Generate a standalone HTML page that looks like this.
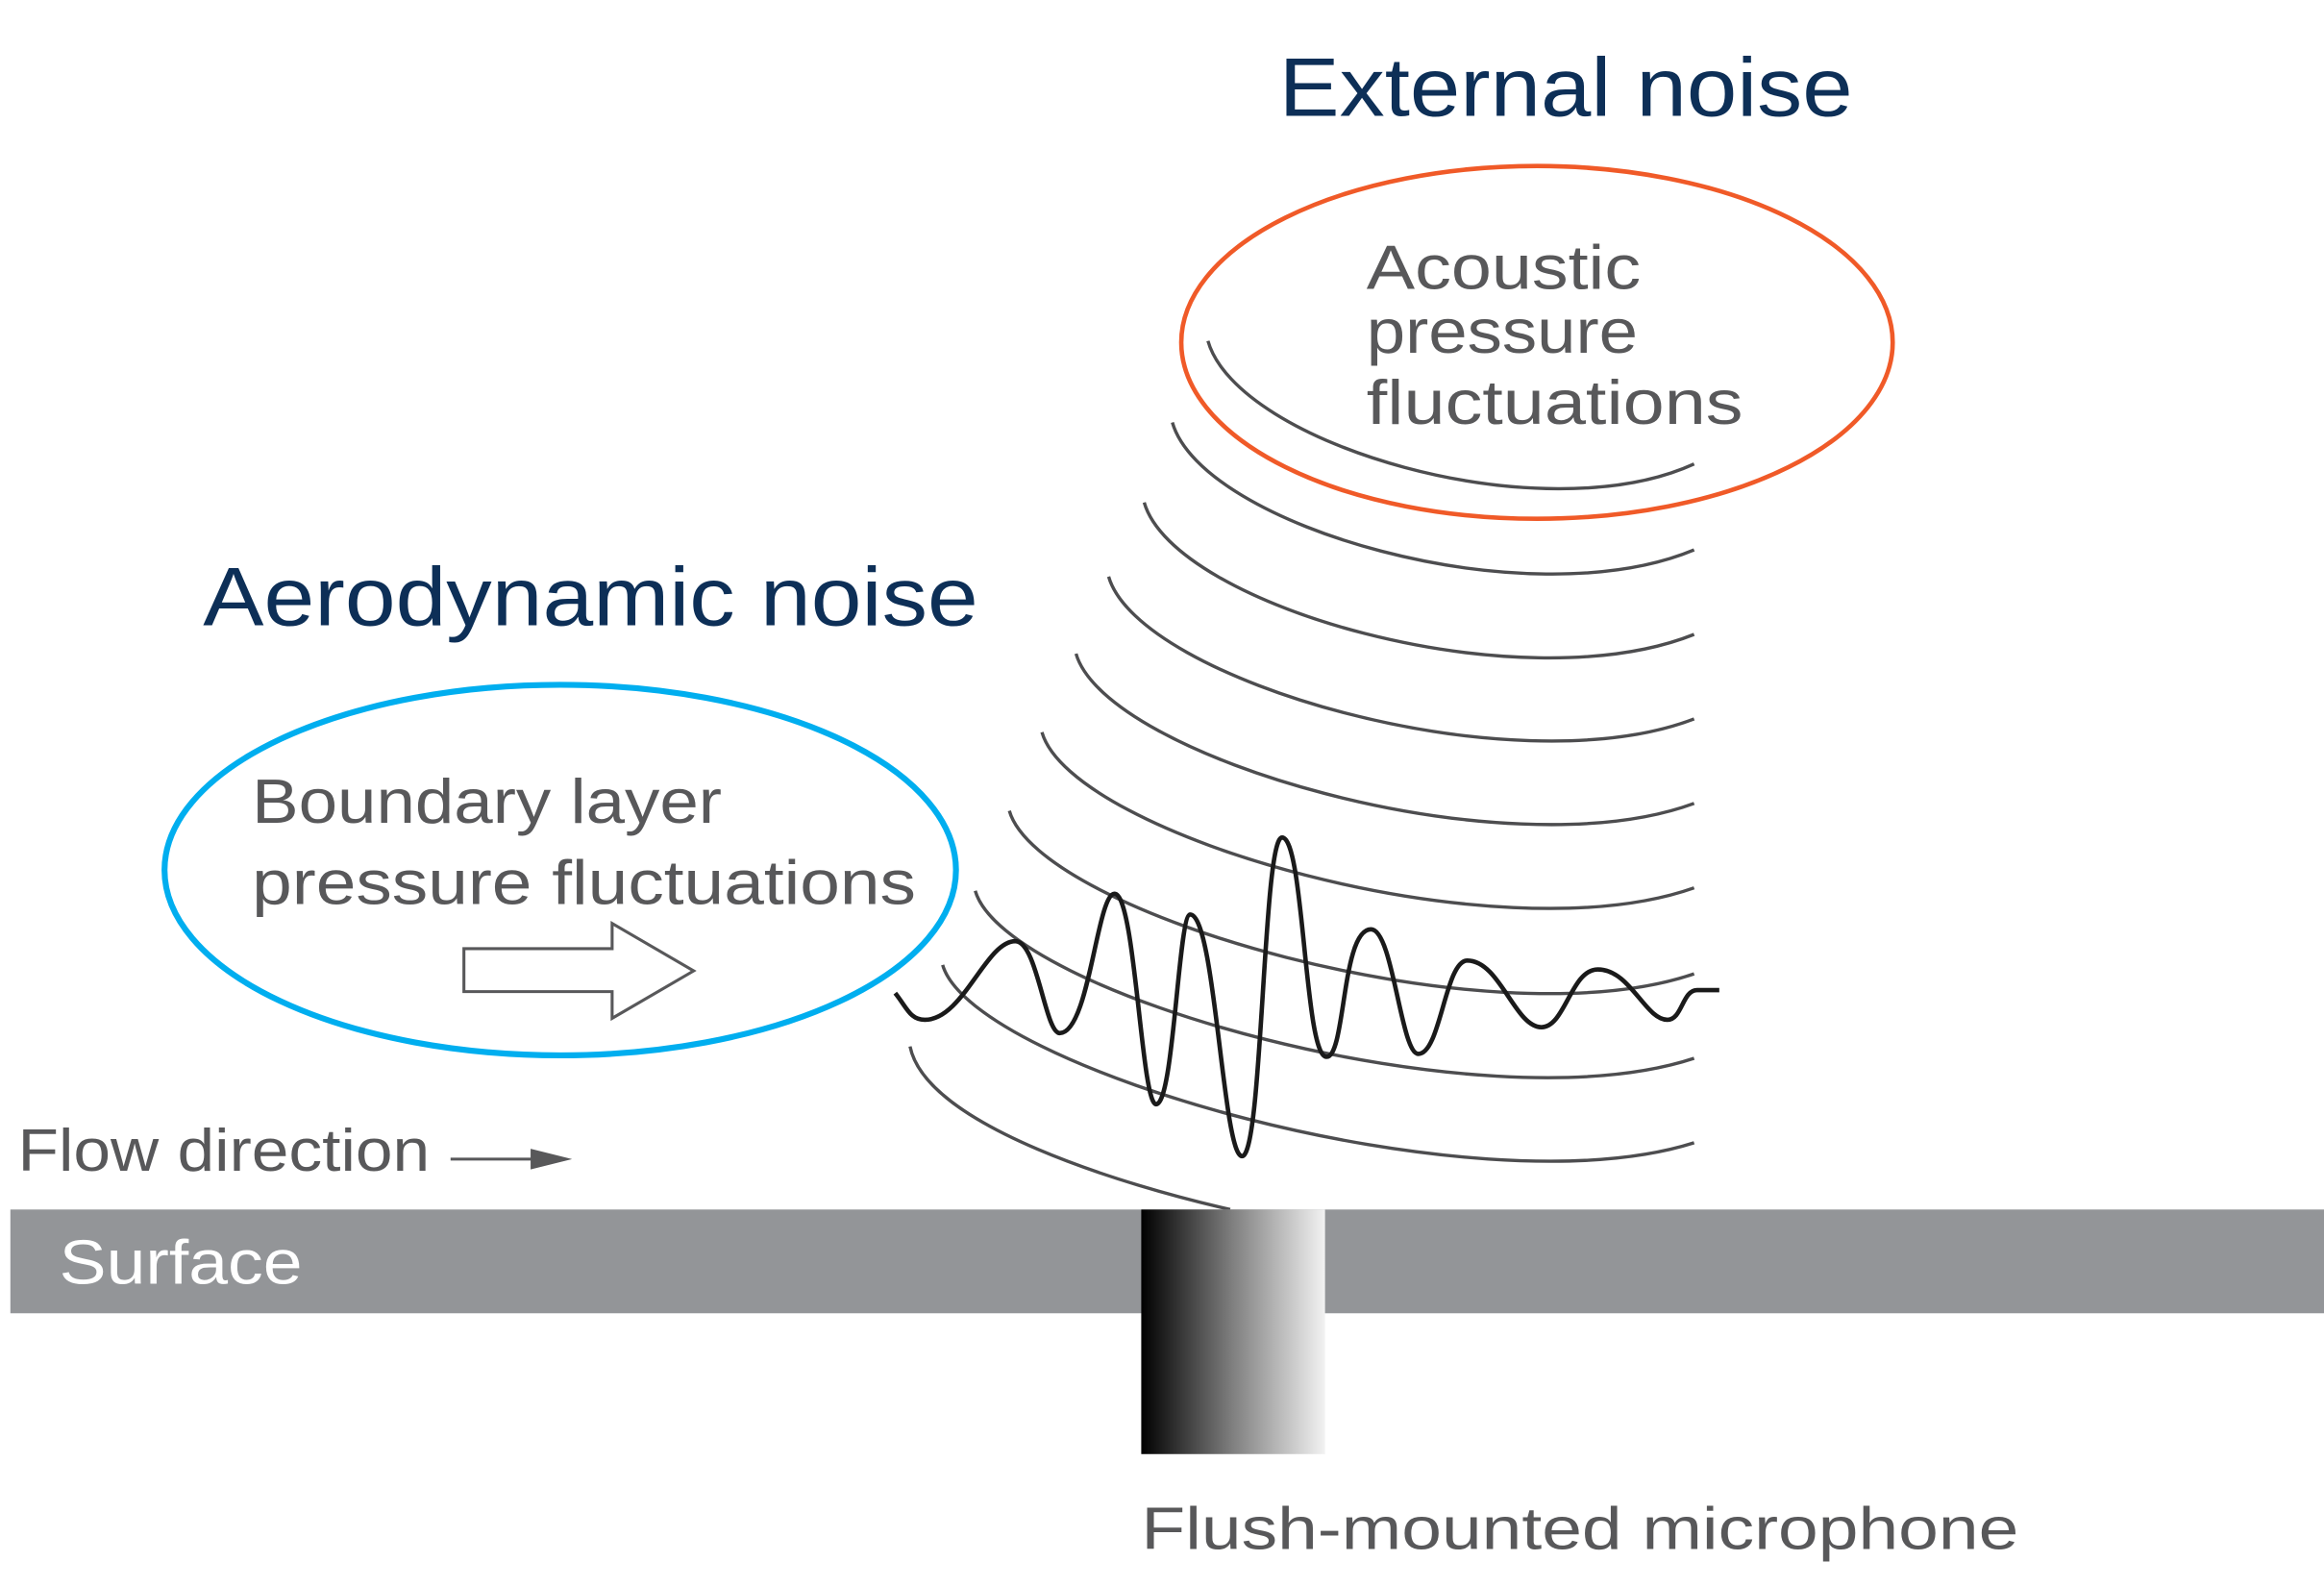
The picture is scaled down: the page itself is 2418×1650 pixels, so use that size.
<!DOCTYPE html>
<html><head><meta charset="utf-8"><style>
html,body{margin:0;padding:0;background:#fff;}
svg{display:block;}
text{font-family:"Liberation Sans",sans-serif;}
</style></head><body>
<svg width="2418" height="1650" viewBox="0 0 1568 1070" preserveAspectRatio="none" xmlns="http://www.w3.org/2000/svg">
<defs>
<linearGradient id="mic" x1="0" x2="1" y1="0" y2="0">
<stop offset="0" stop-color="#000"/><stop offset="0.5" stop-color="#808080"/><stop offset="1" stop-color="#f2f2f2"/>
</linearGradient>
</defs>
<rect width="1568" height="1070" fill="#fff"/>
<text x="863" y="78" font-size="56" fill="#0d2f57" textLength="387" lengthAdjust="spacingAndGlyphs">External noise</text>
<g fill="none" stroke="#4d4d4f" stroke-width="2.2">
<path d="M815,230 C835,300 1040,360 1143,313"/>
<path d="M791,285 C811,355 1030,418 1143,371"/>
<path d="M772,339 C792,409 1025,475 1143,428"/>
<path d="M748,389 C768,459 1020,532 1143,485"/>
<path d="M726,441 C746,511 1015,589 1143,542"/>
<path d="M703,494 C723,564 1010,646 1143,599"/>
<path d="M681,547 C701,617 1005,704 1143,657"/>
<path d="M658,601 C678,671 1000,761 1143,714"/>
<path d="M636,651 C656,721 995,818 1143,771"/>
<path d="M614,706 C625,760 760,800 830,816"/>
</g>
<ellipse cx="1037" cy="231" rx="240" ry="119" fill="none" stroke="#f05a28" stroke-width="3"/>
<g font-size="42" fill="#58585a">
<text x="922" y="195" textLength="185" lengthAdjust="spacingAndGlyphs">Acoustic</text>
<text x="922" y="238" textLength="183" lengthAdjust="spacingAndGlyphs">pressure</text>
<text x="922" y="286" textLength="254" lengthAdjust="spacingAndGlyphs">fluctuations</text>
</g>
<text x="137" y="422" font-size="56" fill="#0d2f57" textLength="523" lengthAdjust="spacingAndGlyphs">Aerodynamic noise</text>
<ellipse cx="378" cy="587" rx="267" ry="125" fill="none" stroke="#00aeef" stroke-width="4"/>
<g font-size="42" fill="#58585a">
<text x="170" y="555" textLength="317" lengthAdjust="spacingAndGlyphs">Boundary layer</text>
<text x="170" y="610" textLength="448" lengthAdjust="spacingAndGlyphs">pressure fluctuations</text>
</g>
<polygon points="313,640 413,640 413,623 468,655 413,687 413,669 313,669" fill="#fff" stroke="#58585a" stroke-width="2"/>
<path fill="none" stroke="#1a1a1a" stroke-width="3" d="M604,670 C612,680 614,688 624,688 C650,688 665,635 685,635 C700,635 705,697 715,697 C735,697 740,603 752,603 C766,603 770,745 780,745 C792,745 795,617 803,617 C820,617 825,780 838,780 C852,780 852,565 865,565 C880,565 880,713 895,713 C908,713 905,627 925,627 C940,627 945,711 957,711 C972,711 975,648 990,648 C1012,648 1022,693 1040,693 C1056,693 1060,654 1078,654 C1100,654 1110,688 1125,688 C1135,688 1135,668 1145,668 L1160,668"/>
<text x="12" y="790" font-size="40" fill="#58585a" textLength="278" lengthAdjust="spacingAndGlyphs">Flow direction</text>
<line x1="304" y1="782" x2="365" y2="782" stroke="#58585a" stroke-width="2"/>
<polygon points="358,775 386,782 358,789" fill="#58585a"/>
<rect x="7" y="816" width="1561" height="70" fill="#939598"/>
<text x="40" y="866" font-size="42" fill="#fff" textLength="164" lengthAdjust="spacingAndGlyphs">Surface</text>
<rect x="770" y="816" width="124" height="165" fill="url(#mic)"/>
<text x="770" y="1045" font-size="40" fill="#58585a" textLength="592" lengthAdjust="spacingAndGlyphs">Flush-mounted microphone</text>
</svg>
</body></html>
